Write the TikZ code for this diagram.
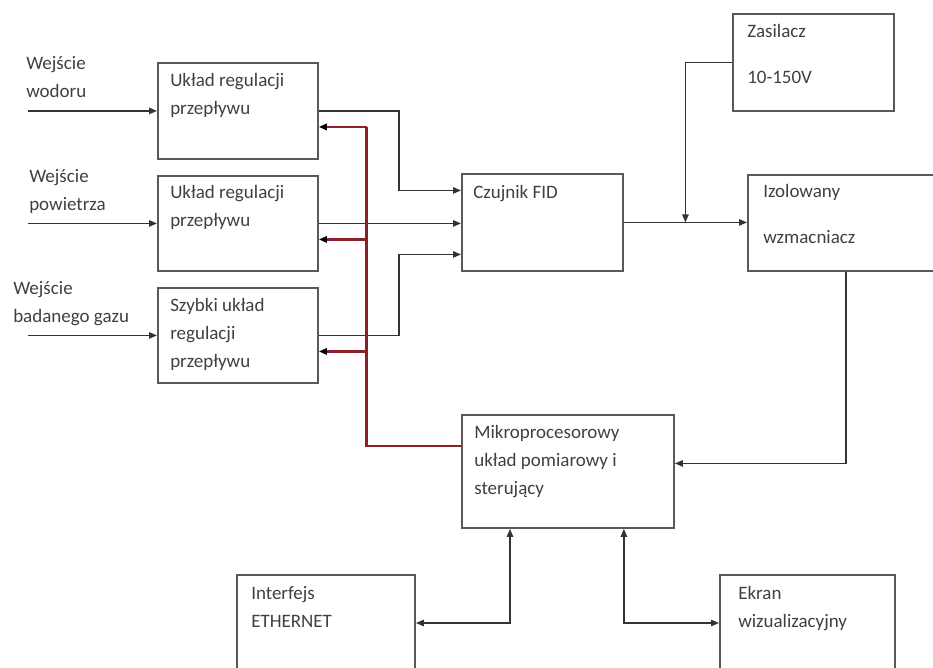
\documentclass[tikz,border=0pt]{standalone}
\usepackage{fontspec}
\setmainfont{Carlito}
\usetikzlibrary{arrows.meta,calc}
\definecolor{bordo}{RGB}{140,30,45}

\begin{document}
\begin{tikzpicture}[x=0.025cm,y=-0.025cm,
  blok/.style={draw=black!65,line width=1.3pt,anchor=north west,minimum width=4cm,minimum height=2.4cm},
  txt/.style={anchor=north west,inner sep=0pt,align=left,text=black!75,font=\fontsize{13.5}{19.9}\selectfont},
  strz/.style={draw=black!80,line width=1pt,-{Triangle[length=0.2cm,width=0.16cm]}},
  dwu/.style={draw=black!80,line width=1pt,{Triangle[length=0.2cm,width=0.16cm]}-{Triangle[length=0.2cm,width=0.16cm]}},
  ster/.style={draw=bordo,line width=2pt}]
  \useasboundingbox (0,0) rectangle (933,667);
  \clip (0,0) rectangle (933,667);
  % bloki
  \node[blok] (b1) at (157,62) {};
  \node[blok,minimum height=2.375cm] (b2) at (157,175) {};
  \node[blok,minimum height=2.375cm] (b3) at (157,287) {};
  \node[blok,minimum width=4.025cm,minimum height=2.425cm] (czu) at (461,173) {};
  \node[blok,minimum width=4.025cm,minimum height=2.425cm] (zas) at (732,13) {};
  \node[blok,minimum width=4.9cm] (izo) at (747,174) {};
  \node[blok,minimum width=5.3cm,minimum height=2.825cm] (mik) at (461,414) {};
  \node[blok,minimum width=4.45cm,minimum height=3cm] (eth) at (236,574) {};
  \node[blok,minimum width=4.375cm,minimum height=3cm] (ekr) at (719,574) {};
  % opisy
  \node[txt] (t1) at ([shift={(13,11)}]b1.north west) {Układ regulacji\\przepływu};
  \node[txt] (t2) at ([shift={(13,10)}]b2.north west) {Układ regulacji\\przepływu};
  \node[txt] (t3) at ([shift={(13,11)}]b3.north west) {Szybki układ\\regulacji\\przepływu};
  \node[txt] (t4) at ([shift={(12,12)}]czu.north west) {Czujnik FID};
  \node[txt] (t5) at ([shift={(15,11)}]zas.north west) {Zasilacz\\[0.46cm]10-150V};
  \node[txt] (t6) at ([shift={(16,10)}]izo.north west) {Izolowany\\[0.46cm]wzmacniacz};
  \node[txt] (t7) at ([shift={(13,11)}]mik.north west) {Mikroprocesorowy\\układ pomiarowy i\\sterujący};
  \node[txt] (t8) at ([shift={(15,12)}]eth.north west) {Interfejs\\ETHERNET};
  \node[txt] (t9) at ([shift={(19,12)}]ekr.north west) {Ekran\\wizualizacyjny};
  \node[txt] (l1) at (26,56) {Wejście\\wodoru};
  \node[txt] (l2) at (29,169) {Wejście\\powietrza};
  \node[txt] (l3) at (13,281) {Wejście\\badanego gazu};
  % wejscia
  \coordinate (we) at (28,0);
  \foreach \b in {b1,b2,b3}
    \draw[strz] (\b.west -| we) -- (\b.west);
  % do czujnika
  \draw[strz] (b1.east) -- ++(80,0) |- ($(czu.west)+(0,-32)$);
  \draw[strz] (b2.east) -- (b2.east -| czu.west);
  \draw[strz] (b3.east) -- ++(80,0) |- ($(czu.west)+(0,32)$);
  % sterowanie
  \draw[ster] ($(mik.north west)+(0,32)$) -| ($(b1.east)+(48,16)$);
  \foreach \b in {b1,b2,b3}
    \draw[ster,-{Triangle[length=0.2cm,width=0.16cm,color=black]}] ($(\b.east)+(48,16)$) -- ($(\b.east)+(0,16)$);
  % tor pomiarowy
  \coordinate (wez) at ($(czu.east)!0.5!(czu.east -| izo.west)$);
  \draw[strz] (czu.east) -- (czu.east -| izo.west);
  \draw[strz] (zas.west) -| (wez);
  \draw[strz] (izo.south) |- ($(mik.east)+(0,-8)$);
  \draw[dwu] ($(mik.south west)+(49,0)$) |- ($(eth.north east)+(0,49)$);
  \draw[dwu] ($(mik.south east)+(-51,0)$) |- ($(ekr.north west)+(0,49)$);
\end{tikzpicture}
\end{document}
